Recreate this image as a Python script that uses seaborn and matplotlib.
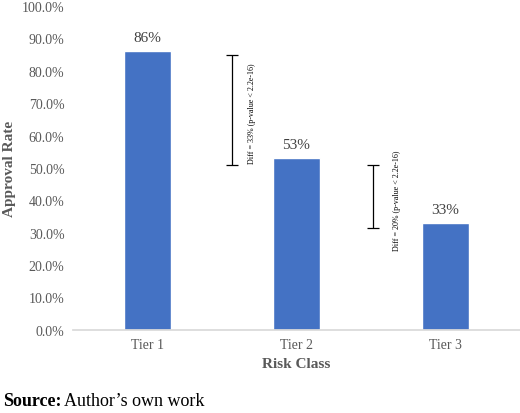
import pandas as pd
import matplotlib.pyplot as plt
import seaborn as sns
from matplotlib.ticker import PercentFormatter

sns.set_theme(style="white")
plt.rcParams["font.family"] = ["Liberation Serif", "DejaVu Serif"]

# Data
tiers = ["Tier 1", "Tier 2", "Tier 3"]
approval = [86, 53, 33]
bar_labels = ["86%", "53%", "33%"]
diff_texts = ["Diff = 33% (p-value < 2.2e-16)", "Diff = 20% (p-value < 2.2e-16)"]
diff_lo = [51, 31.5]
diff_hi = [85, 51]

df = pd.DataFrame({"tier": tiers, "rate": approval})

grey = "#595959"
fig = plt.figure(figsize=(5.2, 4.14), dpi=100)
ax = fig.add_axes([0.140, 0.201, 0.860, 0.782])

sns.barplot(data=df, x="tier", y="rate", color="#4472C4", saturation=1,
            width=0.315, ax=ax)

for cont in ax.containers:
    ax.bar_label(cont, labels=bar_labels, padding=5, fontsize=11, color="#404040")

# significance brackets
br_x = [0.567, 1.513]
txt_x = [0.70, 1.675]
for i in range(2):
    ax.errorbar(br_x[i], (diff_lo[i] + diff_hi[i]) / 2,
                yerr=(diff_hi[i] - diff_lo[i]) / 2, color="black",
                capsize=4, elinewidth=0.9, capthick=0.9)
    ax.text(txt_x[i], (diff_lo[i] + diff_hi[i]) / 2 - 1, diff_texts[i],
            rotation=90, ha="center", va="center", fontsize=5.8, color="black")

ax.set_xlim(-0.5, 2.5)
ax.set_ylim(0, 100)
ax.set_yticks(range(0, 101, 10))
ax.yaxis.set_major_formatter(PercentFormatter(decimals=1))
ax.tick_params(axis="both", labelsize=10, labelcolor=grey, length=0, pad=6)

ax.set_xlabel("Risk Class", fontsize=11, fontweight="bold", color=grey, labelpad=4)
ax.set_ylabel("Approval Rate", fontsize=11, fontweight="bold", color=grey)
ax.yaxis.set_label_coords(-0.128, 0.5)

sns.despine(ax=ax, left=True)
ax.spines["bottom"].set_color("#d9d9d9")

# source note
fig.text(0.006, 0.029, "Source:", fontsize=13, fontweight="bold", color="black", va="center")
fig.text(0.123, 0.029, "Author\u2019s own work", fontsize=13, color="black", va="center")

fig.savefig("out.png", dpi=100)
